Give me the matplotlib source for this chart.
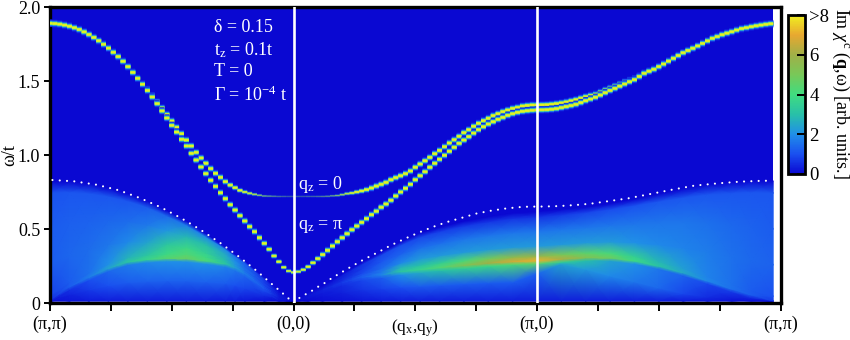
import numpy as np
import matplotlib
matplotlib.use("Agg")
import matplotlib.pyplot as plt
from matplotlib.colors import LinearSegmentedColormap, Normalize, to_rgba
from matplotlib.cm import ScalarMappable

plt.rcParams['font.family'] = ['Liberation Serif', 'DejaVu Serif']
plt.rcParams['mathtext.fontset'] = 'custom'
plt.rcParams['mathtext.rm'] = 'Liberation Serif'
plt.rcParams['mathtext.it'] = 'Liberation Serif:italic'
plt.rcParams['mathtext.bf'] = 'Liberation Serif:bold'
plt.rcParams['mathtext.default'] = 'regular'

# ---------- data ----------
# x unit: one momentum column; each of the three legs has 50 columns
leg_ticks = [0, 50, 100, 150]
leg_labels = ["(π,π)", "(0,0)", "(π,0)", "(π,π)"]
minor_ticks = [12.5, 25, 37.5, 62.5, 75, 87.5, 112.5, 125, 137.5]
y_ticks = [0, 0.5, 1.0, 1.5, 2.0]
y_labels = ["0", "0.5", "1.0", "1.5", "2.0"]
cbar_ticks = [0, 2, 4, 6, 8]
cbar_labels = ["0", "2", "4", "6", ">8"]

mode_qz0 = [
    1.890, 1.888, 1.884, 1.878, 1.870, 1.860, 1.848, 1.832, 1.814, 1.794,
    1.772, 1.748, 1.722, 1.694, 1.665, 1.633, 1.597, 1.558, 1.518, 1.478,
    1.443, 1.401, 1.359, 1.318, 1.274, 1.230, 1.187, 1.144, 1.101, 1.061,
    1.018, 0.980, 0.944, 0.908, 0.876, 0.849, 0.820, 0.797, 0.779, 0.761,
    0.750, 0.741, 0.734, 0.728, 0.723, 0.722, 0.721, 0.720, 0.720, 0.720,
    0.720, 0.720, 0.720, 0.720, 0.720, 0.720, 0.720, 0.721, 0.724, 0.726,
    0.732, 0.739, 0.743, 0.750, 0.757, 0.766, 0.777, 0.790, 0.802, 0.815,
    0.833, 0.847, 0.860, 0.874, 0.892, 0.917, 0.939, 0.961, 0.984, 1.009,
    1.031, 1.056, 1.081, 1.103, 1.126, 1.151, 1.171, 1.194, 1.214, 1.232,
    1.248, 1.266, 1.279, 1.293, 1.304, 1.315, 1.322, 1.331, 1.335, 1.338,
    1.338, 1.339, 1.340, 1.343, 1.347, 1.352, 1.358, 1.366, 1.374, 1.384,
    1.394, 1.402, 1.410, 1.424, 1.439, 1.452, 1.466, 1.479, 1.493, 1.504,
    1.516, 1.534, 1.552, 1.566, 1.579, 1.597, 1.615, 1.634, 1.653, 1.672,
    1.691, 1.706, 1.721, 1.737, 1.754, 1.771, 1.788, 1.800, 1.813, 1.823,
    1.833, 1.844, 1.854, 1.860, 1.867, 1.873, 1.878, 1.883, 1.887,
]
mode_qzpi = [
    1.890, 1.888, 1.884, 1.878, 1.870, 1.860, 1.848, 1.832, 1.814, 1.794,
    1.772, 1.748, 1.722, 1.694, 1.665, 1.633, 1.597, 1.558, 1.518, 1.478,
    1.436, 1.392, 1.347, 1.298, 1.250, 1.200, 1.155, 1.106, 1.061, 1.011,
    0.966, 0.919, 0.874, 0.829, 0.788, 0.745, 0.705, 0.664, 0.628, 0.590,
    0.554, 0.516, 0.482, 0.441, 0.403, 0.363, 0.318, 0.279, 0.241, 0.216,
    0.207, 0.212, 0.225, 0.245, 0.272, 0.300, 0.327, 0.356, 0.385, 0.414,
    0.441, 0.468, 0.495, 0.520, 0.545, 0.570, 0.597, 0.620, 0.647, 0.669,
    0.694, 0.723, 0.750, 0.775, 0.802, 0.833, 0.860, 0.887, 0.917, 0.944,
    0.971, 0.998, 1.025, 1.052, 1.079, 1.101, 1.124, 1.148, 1.171, 1.191,
    1.209, 1.225, 1.241, 1.254, 1.268, 1.279, 1.288, 1.295, 1.299, 1.302,
    1.304, 1.305, 1.306, 1.309, 1.313, 1.320, 1.327, 1.334, 1.342, 1.354,
    1.367, 1.378, 1.390, 1.405, 1.421, 1.436, 1.450, 1.465, 1.480, 1.495,
    1.509, 1.530, 1.552, 1.566, 1.579, 1.597, 1.615, 1.634, 1.653, 1.672,
    1.691, 1.706, 1.721, 1.737, 1.754, 1.771, 1.788, 1.800, 1.813, 1.823,
    1.833, 1.844, 1.854, 1.860, 1.867, 1.873, 1.878, 1.883, 1.887,
]
# spectral weight of the modes near (0,0)
weight_qz0 = (
    [1.0] * 36 + [0.95, 0.9, 0.85, 0.8, 0.72, 0.65, 0.58, 0.5, 0.44, 0.4, 0.36, 0.32, 0.3, 0.28, 0.28,
                  0.28, 0.28, 0.3, 0.3, 0.32, 0.35, 0.38, 0.42, 0.48, 0.55, 0.62, 0.7, 0.78, 0.85, 0.92]
    + [1.0] * 83
)
weight_qzpi = [1.0] * 44 + [0.95, 0.9, 0.85, 0.8, 0.75, 0.7, 0.7, 0.7, 0.75, 0.8, 0.85, 0.9, 0.95] + [1.0] * 92

# dotted boundary of the particle-hole continuum
edge_q = [0.5, 5, 9.6, 14.2, 18.5, 22.8, 26.9, 30.9, 34.9, 38.6, 42.3, 45.8, 48.2, 50,
          51.1, 52.5, 53.8, 55.2, 56.5, 57.8, 61.8, 64.5, 67.3, 70, 72.9, 75.8, 78.6, 81.5,
          84.6, 87.5, 90.6, 93.7, 96.8, 98.4, 101.5, 104.6, 107.9, 111, 114, 118.7, 123.2,
          127.8, 132.3, 137, 141.7, 146.4, 148]
edge_w = [0.831, 0.822, 0.799, 0.761, 0.709, 0.646, 0.574, 0.495, 0.407, 0.318, 0.221, 0.121, 0.054, 0.0,
          0.032, 0.059, 0.083, 0.113, 0.137, 0.167, 0.245, 0.295, 0.342, 0.39, 0.435, 0.477, 0.514, 0.547,
          0.576, 0.604, 0.624, 0.639, 0.649, 0.651, 0.652, 0.655, 0.662, 0.671, 0.685, 0.707, 0.736,
          0.766, 0.793, 0.808, 0.82, 0.826, 0.826]

# continuum: per column, the omega of its features and the intensity there
cont_q = [0, 4, 8, 12, 16, 20, 24, 28, 32, 36, 38, 40, 44, 47, 50,
          53, 56, 60, 64, 68, 72, 76, 80, 85, 90, 95, 100,
          105, 110, 115, 120, 125, 130, 135, 140, 144, 148.5]
ridge_w = [.02, .11, .175, .235, .278, .295, .302, .30, .285, .265, .24, .20, .10, .04, .012,
           .05, .09, .14, .175, .19, .212, .226, .24, .255, .27, .28, .286,
           .297, .307, .305, .285, .25, .205, .15, .095, .055, .015]
top_w = [.825, .82, .805, .775, .735, .685, .62, .55, .465, .375, .325, .28, .17, .08, .016,
         .075, .115, .195, .27, .34, .41, .47, .51, .55, .58, .605, .615,
         .63, .645, .67, .70, .735, .77, .80, .815, .825, .825]
low_w = [.012, .055, .088, .118, .139, .148, .151, .15, .143, .133, .12, .10, .05, .02, .012,
         .025, .045, .07, .088, .095, .106, .113, .12, .128, .135, .14, .20,
         .262, .228, .183, .143, .102, .063, .04, .03, .02, .012]
v_floor = [.15, .2, .25, .3, .3, .3, .3, .3, .3, .25, .25, .2, .15, .1, 0,
           .05, .1, .15, .2, .25, .3, .3, .3, .3, .3, .3, .3,
           .3, .3, .3, .3, .3, .25, .25, .2, .15, .1]
v_low = [.2, .4, .7, 1.0, 1.2, 1.3, 1.3, 1.3, 1.3, 1.2, 1.0, .9, .5, .15, 0,
         .1, .2, .35, .6, .8, 1.0, 1.2, 1.2, 1.2, 1.2, 1.2, 1.3,
         2.4, 2.2, 1.9, 1.6, 1.4, .9, .5, .3, .2, .1]
v_under = [.3, .6, 1.0, 1.4, 1.7, 1.9, 2.0, 2.0, 2.0, 1.8, 1.6, 1.3, .9, .2, 0,
           .15, .3, .5, .9, 1.2, 2.0, 2.6, 3.0, 3.5, 3.8, 4.2, 4.5,
           3.5, 3.0, 2.4, 2.0, 1.6, 1.3, .9, .7, .5, .3]
v_ridge = [.5, 1.2, 1.7, 2.4, 3.2, 3.7, 4.4, 4.7, 4.2, 3.2, 2.3, 1.7, 1.1, .3, 0,
           .2, .4, .7, 1.2, 1.8, 3.2, 3.7, 4.3, 5.2, 6.0, 6.7, 7.1,
           6.2, 5.3, 4.8, 3.9, 3.1, 2.5, 1.9, 1.5, 1.2, .7]
v_near = [.8, 1.2, 1.5, 2.0, 2.7, 3.2, 3.9, 4.3, 3.9, 3.0, 2.2, 1.6, 1.0, .25, 0,
          .2, .4, .6, 1.1, 1.6, 2.7, 3.0, 3.5, 4.2, 4.9, 5.5, 5.8,
          5.0, 4.5, 4.2, 3.5, 2.8, 2.3, 1.8, 1.5, 1.2, 1.0]
v_a = [1.2, 1.35, 1.45, 1.6, 1.9, 2.4, 3.2, 3.8, 3.5, 2.8, 2.1, 1.5, .9, .25, 0,
       .15, .3, .5, .9, 1.4, 1.9, 2.2, 2.2, 2.2, 2.2, 2.2, 2.2,
       2.2, 2.2, 2.2, 2.0, 1.9, 1.8, 1.7, 1.5, 1.4, 1.3]
v_b = [1.2, 1.25, 1.3, 1.35, 1.45, 1.65, 2.1, 2.8, 3.0, 2.5, 1.9, 1.4, .8, .2, 0,
       .1, .2, .4, .7, 1.1, 1.3, 1.5, 1.5, 1.6, 1.6, 1.6, 1.6,
       1.6, 1.6, 1.6, 1.6, 1.6, 1.6, 1.5, 1.4, 1.3, 1.2]
v_c = [1.05, 1.1, 1.1, 1.1, 1.1, 1.2, 1.4, 1.7, 1.9, 1.8, 1.5, 1.2, .6, .15, 0,
       .05, .1, .3, .6, .85, .95, .85, .75, .7, .65, .6, .6,
       .7, .85, .95, 1.05, 1.1, 1.1, 1.1, 1.1, 1.1, 1.1]

# ---------- drawing ----------
W, H = 850, 340
cmap = LinearSegmentedColormap.from_list("chi", [
    (0.0, "#0a08d2"), (0.125, "#1a50f0"), (0.25, "#2090e8"), (0.375, "#28c0a8"),
    (0.5, "#40dc80"), (0.625, "#78c858"), (0.75, "#a0b048"), (0.875, "#e8a830"),
    (1.0, "#f0f020")])
norm = Normalize(0, 8)

fig = plt.figure(figsize=(W / 100, H / 100), dpi=100)
ax = fig.add_axes([50 / W, 1 - 303 / H, 730.5 / W, 296 / H])
ax.set_xlim(0, 150)
ax.set_ylim(0, 2)

q_end = 148.5
w_low, w_high = 0.012, 1.986
ax.pcolormesh([0, q_end], [w_low, w_high], [[0.0]], cmap=cmap, norm=norm, zorder=1)

cq = np.array(cont_q, float)
rw, tw, lw_ = np.array(ridge_w), np.array(top_w), np.array(low_w)
span = tw - rw
omega_rows = np.vstack([
    np.full_like(rw, w_low), lw_, rw - 0.02, rw,
    rw + np.minimum(0.03, 0.15 * span),
    rw + 0.3 * span, rw + 0.6 * span, rw + 0.9 * span, tw])
omega_rows = np.maximum(omega_rows, w_low)
omega_rows = np.maximum.accumulate(omega_rows, axis=0)
omega_rows += np.arange(omega_rows.shape[0])[:, None] * 1e-5
value_rows = np.vstack([v_floor, v_low, v_under, v_ridge, v_near, v_a, v_b, v_c,
                        np.zeros_like(rw)])
X = np.tile(cq, (omega_rows.shape[0], 1))
ax.pcolormesh(X, omega_rows, value_rows, cmap=cmap, norm=norm, shading='gouraud', zorder=2)

layers = [(7.5, "#0f22de", 0.9), (5.8, "#1a50f0", 1.0), (4.6, "#1f90ec", 1.1), (3.6, "#35d0a0", 1.3),
          (2.9, "#a8e850", 1.5), (1.9, "#e8f020", 1.6)]
for values, weights in ((mode_qz0, weight_qz0), (mode_qzpi, weight_qzpi)):
    vals = np.array(values)
    q = np.arange(len(vals))
    wts = np.array(weights[:len(vals)])
    for px_h, colour, gain in layers:
        rgba = [to_rgba(colour, min(1.0, float(w) ** 2 * gain)) for w in wts]
        lc = ax.hlines(vals, np.maximum(q - 0.5, 0), q + 0.5, colors=rgba,
                       linewidths=px_h * 0.72 * np.maximum(wts, 0.45),
                       capstyle='butt', zorder=3)
        lc.set_snap(False)

ax.plot(edge_q, edge_w, color="white", lw=1.55, ls=(0, (0.01, 3.38)),
        dash_capstyle='round', zorder=4)

for q in leg_ticks[1:3]:
    ax.axvline(q, color="white", lw=1.9, zorder=5)

tk = dict(color="white", fontsize=13, zorder=6, va="center", ha="left",
          transform=ax.transAxes)


def px(x, y):
    return (x - 50) / 730.5, (303 - y) / 296


for (x, y), s in [((214, 27), "δ = 0.15"),
                  ((214, 50), "$t_z$ = 0.1t"),
                  ((214, 72), "T = 0"),
                  ((214, 95), "Γ = 10$^{-4}$ t"),
                  ((298, 184), "$q_z$ = 0"),
                  ((298, 226), "$q_z$ = π")]:
    ax.text(*px(x, y), s, **tk)

ax.set_xticks(leg_ticks)
ax.set_xticklabels(leg_labels, fontsize=13)
ax.set_xticks(minor_ticks, minor=True)
ax.set_yticks(y_ticks)
ax.set_yticklabels(y_labels, fontsize=13)
ax.tick_params(axis='x', which='both', length=6, width=1.4, direction='out', pad=3, top=False)
ax.tick_params(axis='y', length=4, width=1.4, direction='out', pad=3, right=False)
for sp in ax.spines.values():
    sp.set_linewidth(2.4)
ax.set_axisbelow(False)

fig.text(415 / W, 1 - 328 / H, "($q_x$,$q_y$)", fontsize=12.5, ha="center", va="center")
fig.text(10 / W, 1 - 155 / H, "ω/t", fontsize=13, rotation=90, ha="center", va="center")

cax = fig.add_axes([788 / W, 1 - 174 / H, 17 / W, 159 / H])
cb = fig.colorbar(ScalarMappable(norm=norm, cmap=cmap), cax=cax)
cb.set_ticks(cbar_ticks)
cb.set_ticklabels(cbar_labels, fontsize=13.5)
cax.tick_params(length=6, width=1.4, direction='in', pad=3, color="black")
cb.outline.set_linewidth(2.0)
fig.text(841 / W, 1 - 93 / H, r"Im $\mathit{\chi}^{c}$ ($\mathbf{q}$,ω) [arb. units.]",
         fontsize=13, rotation=270, ha="center", va="center")

fig.savefig("out.png", dpi=100)
